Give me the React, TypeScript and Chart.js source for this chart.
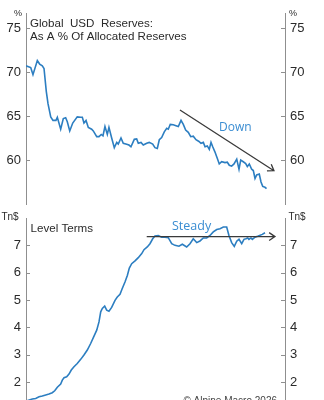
import { useEffect, useRef } from "react";
import { Chart, registerables } from "chart.js";

Chart.register(...registerables);

// USD share of allocated reserves (%)
const SHARE_YEARS = [
  1999.0, 1999.52, 1999.77, 2000.25, 2000.51, 2000.8, 2000.99, 2001.24, 2001.43, 2001.73,
  2001.98, 2002.31, 2002.46, 2002.83, 2003.12, 2003.38, 2003.56, 2003.83, 2004.16, 2004.66,
  2005.04, 2005.22, 2005.4, 2005.63, 2005.88, 2006.25, 2006.43, 2006.81, 2007.06, 2007.31,
  2007.5, 2007.72, 2007.98, 2008.16, 2008.46, 2008.75, 2009.02, 2009.19, 2009.49, 2009.74,
  2010.12, 2010.37, 2010.59, 2010.96, 2011.22, 2011.4, 2011.7, 2011.95, 2012.33, 2012.61,
  2012.99, 2013.24, 2013.5, 2013.72, 2013.98, 2014.27, 2014.54, 2014.71, 2014.93, 2015.26,
  2015.56, 2015.82, 2016.12, 2016.37, 2016.63, 2016.92, 2017.19, 2017.47, 2017.77, 2018.1,
  2018.32, 2018.58, 2018.77, 2019.02, 2019.24, 2019.43, 2019.62, 2019.87, 2020.12, 2020.34,
  2020.61, 2020.97, 2021.23, 2021.45, 2021.71, 2021.97, 2022.27, 2022.52, 2022.71, 2022.99,
  2023.26, 2023.44, 2023.66, 2023.92, 2024.1, 2024.29, 2024.47, 2024.76, 2024.95, 2025.14,
  2025.39, 2025.56,
];
const SHARE_VALUES = [
  70.7, 70.5, 69.7, 71.3, 70.9, 70.7, 70.4, 67.8, 66.4, 64.9,
  64.5, 64.5, 64.85, 63.5, 64.7, 64.8, 64.35, 63.3, 64.2, 64.9,
  64.85, 64.85, 64.2, 64.5, 63.7, 63.5, 63.3, 62.65, 62.65, 62.9,
  62.75, 63.8, 62.9, 63.7, 62.5, 61.4, 62.0, 61.8, 62.5, 61.9,
  61.8, 61.7, 61.5, 62.35, 62.4, 61.9, 62.0, 61.7, 61.9, 62.0,
  61.8, 61.4, 61.3, 62.3, 62.55, 63.2, 63.6, 63.5, 64.05, 64.0,
  63.9, 63.8, 64.5, 64.05, 63.4, 63.15, 62.65, 62.7, 62.3, 62.1,
  61.9, 62.0, 61.5, 61.6, 61.2, 62.0, 61.5, 60.9, 60.2, 59.55,
  59.8, 59.7, 59.75, 59.4, 59.3, 59.55, 60.1, 58.95, 60.0, 59.8,
  59.6, 59.25, 59.55, 58.95, 58.8, 57.9, 58.3, 58.4, 57.5, 57.0,
  56.9, 56.75,
];

// USD allocated reserves, level (Tn$)
const LEVEL_YEARS = [
  1999.0, 1999.7, 2000.07, 2000.44, 2000.8, 2001.18, 2001.54, 2001.9, 2002.17, 2002.46,
  2002.83, 2003.01, 2003.2, 2003.49, 2003.75, 2004.0, 2004.3, 2004.66, 2005.04, 2005.4,
  2005.77, 2006.14, 2006.51, 2006.81, 2007.06, 2007.25, 2007.43, 2007.69, 2007.91, 2008.16,
  2008.46, 2008.83, 2009.08, 2009.38, 2009.63, 2009.93, 2010.19, 2010.41, 2010.67, 2011.04,
  2011.4, 2011.78, 2012.03, 2012.39, 2012.69, 2012.99, 2013.24, 2013.61, 2013.98, 2014.35,
  2014.71, 2015.09, 2015.45, 2015.89, 2016.26, 2016.74, 2017.11, 2017.47, 2017.85, 2018.21,
  2018.58, 2018.95, 2019.32, 2019.68, 2020.06, 2020.42, 2020.79, 2021.16, 2021.41, 2021.71,
  2022.0, 2022.27, 2022.52, 2022.82, 2023.07, 2023.29, 2023.48, 2023.62, 2023.84, 2023.99,
  2024.29, 2024.65, 2025.09, 2025.39,
];
const LEVEL_VALUES = [
  1.3, 1.38, 1.4, 1.46, 1.49, 1.53, 1.56, 1.61, 1.68, 1.81,
  1.93, 2.07, 2.16, 2.19, 2.29, 2.44, 2.56, 2.68, 2.83, 2.99,
  3.17, 3.41, 3.68, 3.9, 4.2, 4.57, 4.69, 4.78, 4.63, 4.59,
  4.73, 4.99, 5.11, 5.21, 5.42, 5.66, 5.9, 6.17, 6.33, 6.43,
  6.55, 6.7, 6.84, 6.94, 7.06, 7.24, 7.34, 7.36, 7.3, 7.3,
  7.28, 7.06, 7.0, 6.97, 7.04, 6.94, 7.06, 7.24, 7.1, 7.16,
  7.27, 7.27, 7.36, 7.49, 7.58, 7.61, 7.67, 7.67, 7.36, 7.1,
  6.96, 7.15, 7.22, 7.06, 7.22, 7.24, 7.27, 7.22, 7.27, 7.22,
  7.3, 7.34, 7.4, 7.46,
];

const SHARE_TICKS = [60, 65, 70, 75];
const LEVEL_TICKS = [1, 2, 3, 4, 5, 6, 7];
const X_RANGE = [1999, 2027.6];
const SHARE_RANGE = [55, 76.7];
const LEVEL_RANGE = [1, 8];

// annotation arrows [year, value]
const DOWN_ARROW = { from: [2016.0, 65.68], to: [2026.38, 58.78] };
const STEADY_ARROW = { from: [2012.33, 7.32], to: [2026.49, 7.32] };

const LINE_COLOR = "#2c7ec1";
const NOTE_COLOR = "#3a8dd2";
const AXIS_COLOR = "#8f8f8f";
const TEXT_COLOR = "#2a2a2a";
const SANS = "'Liberation Sans', Arial, sans-serif";
const OPEN = "'Open Sans', 'Liberation Sans', sans-serif";

type TextItem = { text: string; x: number; y: number; font: string; color: string; align: CanvasTextAlign };
type ArrowItem = { from: number[]; to: number[] };

function overlayPlugin(texts: TextItem[], arrows: ArrowItem[], tickValues: number[]) {
  return {
    id: "overlay",
    afterDraw(chart: any) {
      const ctx: CanvasRenderingContext2D = chart.ctx;
      const { left, right, top, bottom } = chart.chartArea;
      const ys = chart.scales.y;
      const xs = chart.scales.x;
      ctx.save();
      ctx.strokeStyle = AXIS_COLOR;
      ctx.lineWidth = 1;
      tickValues.forEach((v) => {
        const py = Math.round(ys.getPixelForValue(v)) + 0.5;
        if (py < top || py > bottom) return;
        ctx.beginPath();
        ctx.moveTo(left, py);
        ctx.lineTo(left + 4, py);
        ctx.moveTo(right - 4, py);
        ctx.lineTo(right, py);
        ctx.stroke();
      });
      ctx.strokeStyle = "#3a3a3a";
      ctx.lineWidth = 1.3;
      arrows.forEach((a) => {
        const x1 = xs.getPixelForValue(a.from[0]);
        const y1 = ys.getPixelForValue(a.from[1]);
        const x2 = xs.getPixelForValue(a.to[0]);
        const y2 = ys.getPixelForValue(a.to[1]);
        const ang = Math.atan2(y2 - y1, x2 - x1);
        const hl = 7;
        ctx.beginPath();
        ctx.moveTo(x1, y1);
        ctx.lineTo(x2, y2);
        ctx.moveTo(x2 - hl * Math.cos(ang - 0.6), y2 - hl * Math.sin(ang - 0.6));
        ctx.lineTo(x2, y2);
        ctx.lineTo(x2 - hl * Math.cos(ang + 0.6), y2 - hl * Math.sin(ang + 0.6));
        ctx.stroke();
      });
      texts.forEach((t) => {
        ctx.font = t.font;
        ctx.fillStyle = t.color;
        ctx.textAlign = t.align;
        ctx.textBaseline = "alphabetic";
        ctx.fillText(t.text, t.x, t.y);
      });
      ctx.restore();
    },
  };
}

function yAxis(position: "left" | "right", range: number[], ticks: number[], width: number) {
  return {
    position,
    min: range[0],
    max: range[1],
    afterBuildTicks: (s: any) => {
      s.ticks = ticks.map((v) => ({ value: v }));
    },
    afterFit: (s: any) => {
      s.width = width;
    },
    grid: { display: false, drawTicks: false },
    border: { display: true, color: AXIS_COLOR, width: 1 },
    ticks: {
      padding: 5,
      color: TEXT_COLOR,
      font: { size: 13, family: SANS },
      callback: (v: any) => String(v),
    },
  };
}

function makeChart(
  canvas: HTMLCanvasElement,
  years: number[],
  values: number[],
  range: number[],
  ticks: number[],
  padding: { top: number; bottom: number },
  plugin: any
) {
  return new Chart(canvas, {
    type: "line",
    data: {
      datasets: [
        {
          data: years.map((x, i) => ({ x, y: values[i] })),
          borderColor: LINE_COLOR,
          borderWidth: 1.6,
          pointRadius: 0,
          tension: 0,
          fill: false,
          yAxisID: "y",
        },
      ],
    },
    options: {
      responsive: false,
      animation: false,
      layout: { padding: { top: padding.top, bottom: padding.bottom, left: 0, right: 0 } },
      plugins: { legend: { display: false }, tooltip: { enabled: false }, title: { display: false } },
      scales: {
        x: { type: "linear", min: X_RANGE[0], max: X_RANGE[1], display: false },
        y: yAxis("left", range, ticks, 26),
        y2: yAxis("right", range, ticks, 39),
      },
    } as any,
    plugins: [plugin],
  });
}

export default function App() {
  const topRef = useRef<HTMLCanvasElement>(null);
  const botRef = useRef<HTMLCanvasElement>(null);

  useEffect(() => {
    const topTexts: TextItem[] = [
      { text: "%", x: 18, y: 15.5, font: `9px ${SANS}`, color: TEXT_COLOR, align: "center" },
      { text: "%", x: 293, y: 15.5, font: `9px ${SANS}`, color: TEXT_COLOR, align: "center" },
      { text: "Global  USD  Reserves:", x: 30, y: 27, font: `11.6px ${SANS}`, color: TEXT_COLOR, align: "left" },
      { text: "As A % Of Allocated Reserves", x: 30, y: 40, font: `11.6px ${SANS}`, color: TEXT_COLOR, align: "left" },
      { text: "Down", x: 219, y: 130.5, font: `12px ${OPEN}`, color: NOTE_COLOR, align: "left" },
    ];
    const botTexts: TextItem[] = [
      { text: "Tn$", x: 10, y: 15, font: `10px ${SANS}`, color: TEXT_COLOR, align: "center" },
      { text: "Tn$", x: 297, y: 15, font: `10px ${SANS}`, color: TEXT_COLOR, align: "center" },
      { text: "Level Terms", x: 30.5, y: 26.7, font: `11.6px ${SANS}`, color: TEXT_COLOR, align: "left" },
      { text: "Steady", x: 172, y: 24.7, font: `12.5px ${OPEN}`, color: NOTE_COLOR, align: "left" },
      { text: "© Alpine Macro 2026", x: 277, y: 198.5, font: `10px ${SANS}`, color: "#444", align: "right" },
    ];
    const top = makeChart(
      topRef.current!,
      SHARE_YEARS,
      SHARE_VALUES,
      SHARE_RANGE,
      SHARE_TICKS,
      { top: 13, bottom: 16 },
      overlayPlugin(topTexts, [DOWN_ARROW], SHARE_TICKS)
    );
    const bot = makeChart(
      botRef.current!,
      LEVEL_YEARS,
      LEVEL_VALUES,
      LEVEL_RANGE,
      LEVEL_TICKS,
      { top: 13, bottom: 35.6 },
      overlayPlugin(botTexts, [STEADY_ARROW], LEVEL_TICKS)
    );
    return () => {
      top.destroy();
      bot.destroy();
    };
  }, []);

  return (
    <div
      style={{
        position: "absolute",
        left: 0,
        top: 0,
        width: 324,
        height: 400,
        overflow: "hidden",
        background: "#fff",
      }}
    >
      <canvas ref={topRef} width={324} height={220} style={{ position: "absolute", left: 0, top: 0, display: "block" }} />
      <canvas ref={botRef} width={324} height={240} style={{ position: "absolute", left: 0, top: 205, display: "block" }} />
    </div>
  );
}
